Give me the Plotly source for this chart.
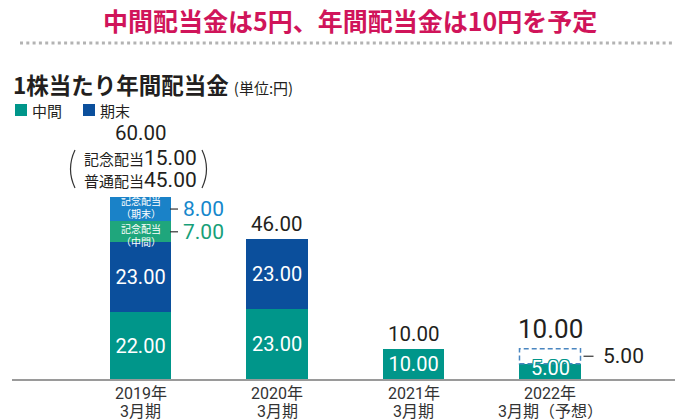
import plotly.graph_objects as go

# ---------------- data ----------------
tick_year = ["2019年", "2020年", "2021年", "2022年"]
tick_period = ["3月期", "3月期", "3月期", "3月期（予想）"]
categories = [f"{a}<br>{b}" for a, b in zip(tick_year, tick_period)]
interim = [22, 23, 10, 5]                 # 中間（普通）
year_end = [23, 23, None, None]           # 期末（普通）
commem_interim = [7, None, None, None]    # 記念配当（中間）
commem_year_end = [8, None, None, None]   # 記念配当（期末）
forecast_year_end = [None, None, None, 5] # 期末（予想）
totals = [60, 46, 10, 10]
commem_total = 15
ordinary_total = 45

# ---------------- layout helpers ----------------
W, H = 675, 420
L, R, T, B = 12, 0, 100, 41
PW, PH = W - L - R, H - T - B
BW = 0.447

def fx(px):
    return (px - L) / PW

def fy(py):
    return (H - B - py) / PH

TEAL = "#00968a"
NAVY = "#0b4f9c"
LBLUE = "#1a82c8"
LGREEN = "#1fa67c"
DARK = "#231f20"
NUM = "Roboto, Noto Sans CJK JP, sans-serif"
CJK = "Noto Sans CJK JP, sans-serif"
TICK = "Roboto, Noto Sans CJK JP, sans-serif"

fig = go.Figure()

def fmt(v):
    return "" if v is None else f"{v:.2f}"

fig.add_trace(go.Bar(
    x=categories, y=interim, width=BW, marker=dict(color=TEAL, line=dict(width=0)),
    text=[fmt(v) for v in interim[:3]] + [""], textposition="inside",
    insidetextanchor="middle", constraintext="none", textangle=0,
    textfont=dict(family=NUM, size=20, color="white"), name="中間"))
fig.add_trace(go.Bar(
    x=categories, y=year_end, width=BW, marker=dict(color=NAVY, line=dict(width=0)),
    text=[fmt(v) for v in year_end], textposition="inside",
    insidetextanchor="middle", constraintext="none", textangle=0,
    textfont=dict(family=NUM, size=20, color="white"), name="期末"))
fig.add_trace(go.Bar(
    x=categories, y=commem_interim, width=BW, marker=dict(color=LGREEN, line=dict(width=0)),
    name="記念配当（中間）"))
fig.add_trace(go.Bar(
    x=categories, y=commem_year_end, width=BW, marker=dict(color=LBLUE, line=dict(width=0)),
    name="記念配当（期末）"))
fig.add_trace(go.Bar(
    x=categories, y=forecast_year_end, width=BW,
    marker=dict(color="rgba(0,0,0,0)", line=dict(width=0)), name="期末（予想）"))

shapes = []
annotations = []

# category labels under the axis
for i, (a, b) in enumerate(zip(tick_year, tick_period)):
    annotations.append(dict(x=i, y=0, xref="x", yref="y", text=a, showarrow=False,
                            yanchor="middle", yshift=-14, font=dict(family=TICK, size=16, color="#333333")))
    annotations.append(dict(x=i, y=0, xref="x", yref="y", text=b, showarrow=False,
                            yanchor="middle", yshift=-32, font=dict(family=TICK, size=16, color="#333333")))

# dashed forecast box (from data)
shapes.append(dict(type="rect", xref="x", yref="y",
                   x0=3 - BW / 2, x1=3 + BW / 2, y0=interim[3], y1=interim[3] + forecast_year_end[3],
                   line=dict(color="#4a86c0", width=1.5, dash="5px,3px"), fillcolor="rgba(0,0,0,0)",
                   layer="above"))

# 2022 interim label with outline
annotations.append(dict(x=3, y=interim[3] / 2, xref="x", yref="y", text=fmt(interim[3]),
                        showarrow=False, yshift=3,
                        font=dict(family=NUM, size=20, color="white",
                                  shadow=f"1px 1px 0 {TEAL}, -1px -1px 0 {TEAL}, 1px -1px 0 {TEAL}, -1px 1px 0 {TEAL}")))

# commemorative in-bar captions
base = interim[0] + year_end[0]
y_ci = base + commem_interim[0] / 2
y_cy = base + commem_interim[0] + commem_year_end[0] / 2
for yv, txt, sh in [(y_cy, "記念配当<br>（期末）", 2), (y_ci, "記念配当<br>（中間）", -3)]:
    annotations.append(dict(x=0, y=yv, xref="x", yref="y", text=txt, showarrow=False,
                            yanchor="middle", yshift=sh, borderpad=0,
                            font=dict(family=CJK, size=10, color="white")))

# total labels
for i, tot in enumerate(totals):
    if i == 0:
        continue
    big = (i == 3)
    annotations.append(dict(x=i, y=tot, xref="x", yref="y", text=fmt(tot), showarrow=False,
                            yanchor="middle", yshift=20 if big else 15,
                            font=dict(family=NUM, size=26 if big else 20.5, color=DARK)))

# 2019 total and breakdown
annotations.append(dict(x=0, y=totals[0], xref="x", yref="y", text=fmt(totals[0]), showarrow=False,
                        yanchor="middle", yshift=64, font=dict(family=NUM, size=20.5, color=DARK)))
annotations.append(dict(x=0, y=totals[0], xref="x", yref="y", showarrow=False, yanchor="middle", yshift=39,
                        text=f"<span style='font-family:Noto Sans CJK JP;font-size:15px'>記念配当</span>{fmt(commem_total)}",
                        font=dict(family=NUM, size=21, color=DARK)))
annotations.append(dict(x=0, y=totals[0], xref="x", yref="y", showarrow=False, yanchor="middle", yshift=17,
                        text=f"<span style='font-family:Noto Sans CJK JP;font-size:15px'>普通配当</span>{fmt(ordinary_total)}",
                        font=dict(family=NUM, size=21, color=DARK)))
# big parentheses
shapes.append(dict(type="path", xref="paper", yref="paper",
                   path=f"M {fx(75)},{fy(150)} Q {fx(66)},{fy(169)} {fx(75)},{fy(188)}",
                   line=dict(color="#333333", width=1.2)))
shapes.append(dict(type="path", xref="paper", yref="paper",
                   path=f"M {fx(202)},{fy(150)} Q {fx(211)},{fy(169)} {fx(202)},{fy(188)}",
                   line=dict(color="#333333", width=1.2)))

# commemorative side labels
side = [(y_ci, commem_interim[0], "#17a079"), (y_cy, commem_year_end[0], "#1587cc")]
for yv, val, col in side:
    shapes.append(dict(type="line", xref="x", yref="y", xsizemode="pixel", xanchor=0 + BW / 2,
                       x0=-1, x1=7, y0=yv, y1=yv, line=dict(color="#333333", width=1.2)))
    annotations.append(dict(x=0 + BW / 2, y=yv, xref="x", yref="y", text=fmt(val), showarrow=False,
                            xanchor="left", yanchor="middle", xshift=10,
                            font=dict(family=NUM, size=21, color=col)))

# 2022 forecast year-end side label
yv = interim[3] + forecast_year_end[3] / 2
shapes.append(dict(type="line", xref="x", yref="y", xsizemode="pixel", xanchor=3 + BW / 2,
                   x0=3, x1=13, y0=yv, y1=yv, line=dict(color="#333333", width=1.2)))
annotations.append(dict(x=3 + BW / 2, y=yv, xref="x", yref="y", text=fmt(forecast_year_end[3]),
                        showarrow=False, xanchor="left", yanchor="middle", xshift=20,
                        font=dict(family=NUM, size=21, color=DARK)))

# title and dotted rule
annotations.append(dict(x=fx(350), y=fy(20), xref="paper", yref="paper", showarrow=False,
                        xanchor="center", yanchor="middle",
                        text="<b>中間配当金は5円、年間配当金は10円を予定</b>",
                        font=dict(family=CJK, size=25, color="#d0145a")))
shapes.append(dict(type="line", xref="paper", yref="paper", x0=fx(20), x1=fx(674), y0=fy(43), y1=fy(43),
                   line=dict(color="#b3b3b3", width=3, dash="3px,3.3px")))

# subtitle
annotations.append(dict(x=fx(11), y=fy(84), xref="paper", yref="paper", showarrow=False,
                        xanchor="left", yanchor="middle",
                        text="<b>1株当たり年間配当金</b> <span style='font-size:15px'>(単位:円)</span>",
                        font=dict(family=CJK, size=22.5, color=DARK)))

# legend
for x0, col, label in [(15, TEAL, "中間"), (83, NAVY, "期末")]:
    shapes.append(dict(type="rect", xref="paper", yref="paper", x0=fx(x0), x1=fx(x0 + 12),
                       y0=fy(116), y1=fy(104), fillcolor=col, line=dict(width=0)))
    annotations.append(dict(x=fx(x0 + 15), y=fy(110), xref="paper", yref="paper", showarrow=False,
                            xanchor="left", yanchor="middle", text=label,
                            font=dict(family=CJK, size=15, color=DARK)))

r0 = -(140.5 - L) / 136.5
fig.update_layout(
    width=W, height=H, margin=dict(l=L, r=R, t=T, b=B),
    paper_bgcolor="white", plot_bgcolor="white", barmode="stack", showlegend=False,
    shapes=shapes, annotations=annotations,
    xaxis=dict(type="category", range=[r0, r0 + PW / 136.5], showline=True, linecolor="#9a9a9a",
               linewidth=1.5, showgrid=False, zeroline=False, ticks="", showticklabels=False,
               automargin=False),
    yaxis=dict(range=[0, PH / 3.035], visible=False, showgrid=False, zeroline=False, automargin=False),
)

fig.write_html("out.html", config={"displayModeBar": False},
               post_script="document.body.style.margin='0';document.body.style.overflow='hidden';")
